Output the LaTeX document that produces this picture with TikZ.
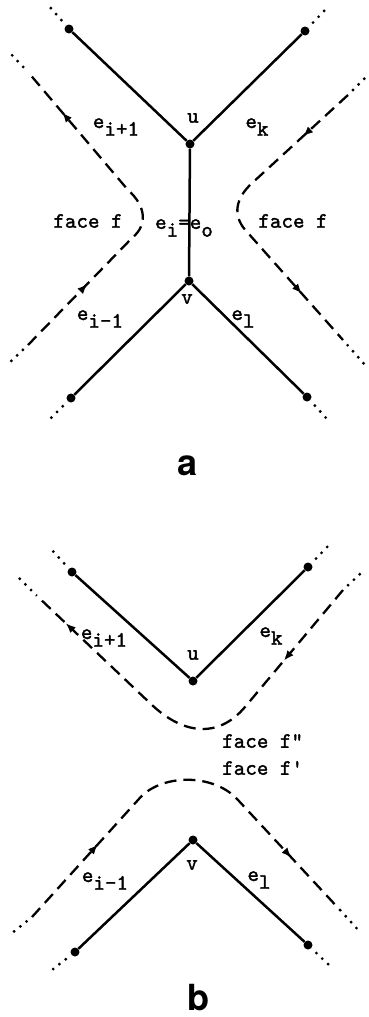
\documentclass[tikz,border=0pt]{standalone}
\usepackage{fontspec}
\newfontfamily\figfont{TeX Gyre Heros}
\newfontfamily\labfont{lmmono10-regular.otf}[FakeBold=1.6]
\usepackage{tikz}
\usetikzlibrary{arrows.meta,decorations.markings}
\newcommand{\esub}[1]{e\raisebox{-.35em}{#1}}

\begin{document}
\begin{tikzpicture}[x=1pt,y=-1pt,vtx/.style={circle,fill=black,inner sep=0pt,minimum size=9pt},edge/.style={line width=2.5pt},walk/.style={line width=2.3pt,dash pattern=on 12pt off 7pt},cont/.style={line width=3.2pt,line cap=round,dash pattern=on 0pt off 8pt,dash phase=1pt},lbl/.style={font=\labfont\fontsize{22}{24}\selectfont,inner sep=0pt},fig/.style={font=\figfont\bfseries\fontsize{36}{40}\selectfont,inner sep=0pt},marked/.style 2 args={postaction={decorate},decoration={markings,mark=at position #1 with {\arrow{Latex[length=10pt,width=8pt]}},mark=at position #2 with {\arrow{Latex[length=10pt,width=8pt]}}}}]
\useasboundingbox (0,0) rectangle (369,1017);
\node[vtx] (ula) at (69,29) {};\node[vtx] (ura) at (305,31) {};
\node[vtx] (ua) at (190,144) {};\node[vtx] (va) at (189,281) {};
\node[vtx] (lla) at (71,398) {};\node[vtx] (lra) at (307,397) {};
\coordinate (ulax) at (49,6);\coordinate (urax) at (326,9);\coordinate (llax) at (50,419);\coordinate (lrax) at (327,419);
\draw[edge] (ula) -- (ua) -- (ura);\draw[edge] (ua) -- (va);\draw[edge] (lla) -- (va) -- (lra);
\draw[cont] (ula) -- (ulax);\draw[cont] (ura) -- (urax);\draw[cont] (lla) -- (llax);\draw[cont] (lra) -- (lrax);
\draw[walk,marked={85pt}{-53pt}] (28,345) -- (132,238) .. controls (148,225) and (146,206) .. (128,190) -- (28,72);
\draw[walk,marked={61pt}{-62pt}] (348,95) -- (250,185) .. controls (234,201) and (233,218) .. (248,233) -- (343,340);
\draw[cont] (28,72) -- (10,53);\draw[cont] (28,345) -- (8,364);\draw[cont] (348,95) -- (368,75);\draw[cont] (343,340) -- (366,366);
\node[lbl] (ua-l) at (193,118) {u};
\node[lbl] (eip-a) at (116,127) {\esub{i+1}};
\node[lbl] (ek-a) at (257,127) {\esub{k}};
\node[lbl] (fl-a) at (88,221) {face f};
\node[lbl] (eo-a) at (184,228) {\esub{i}=\esub{o}};
\node[lbl] (fr-a) at (293,221) {face f};
\node[lbl] (va-l) at (187,299) {v};
\node[lbl] (eim-a) at (100,319) {\esub{i-1}};
\node[lbl] (el-a) at (243,319) {\esub{l}};
\node[fig] (cap-a) at (188,466) {a};
\node[vtx] (ulb) at (72,572) {};\node[vtx] (urb) at (308,567) {};
\node[vtx] (ub) at (193,681) {};\node[vtx] (vb) at (193,840) {};
\node[vtx] (llb) at (75,952) {};\node[vtx] (lrb) at (308,945) {};
\coordinate (ulbx) at (51,549);\coordinate (urbx) at (329,545);\coordinate (llbx) at (48,973);\coordinate (lrbx) at (330,966);
\draw[edge] (ulb) -- (ub) -- (urb);\draw[edge] (llb) -- (vb) -- (lrb);
\draw[cont] (ulb) -- (ulbx);\draw[cont] (urb) -- (urbx);\draw[cont] (llb) -- (llbx);\draw[cont] (lrb) -- (lrbx);
\draw[walk,marked={92pt}{-41pt}] (343,590) -- (245,707) .. controls (217,740) and (182,733) .. (152,705) -- (36,595);
\draw[walk,marked={98pt}{-73pt}] (32,917) -- (138,800) .. controls (160,773) and (214,773) .. (238,800) -- (341,911);
\draw[cont] (36,595) -- (16,575);\draw[cont] (343,590) -- (361,573);\draw[cont] (32,917) -- (12,933);\draw[cont] (341,911) -- (360,932);
\node[lbl] (ub-l) at (193,655) {u};
\node[lbl] (eip-b) at (104,638) {\esub{i+1}};
\node[lbl] (ek-b) at (271,636) {\esub{k}};
\node[lbl,anchor=west] (f2-b) at (222,741) {face f"};
\node[lbl,anchor=west] (f1-b) at (222,768) {face f'};
\node[lbl] (vb-l) at (192,865) {v};
\node[lbl] (eim-b) at (105,881) {\esub{i-1}};
\node[lbl] (el-b) at (259,880) {\esub{l}};
\node[fig] (cap-b) at (198,998) {b};
\end{tikzpicture}
\end{document}
